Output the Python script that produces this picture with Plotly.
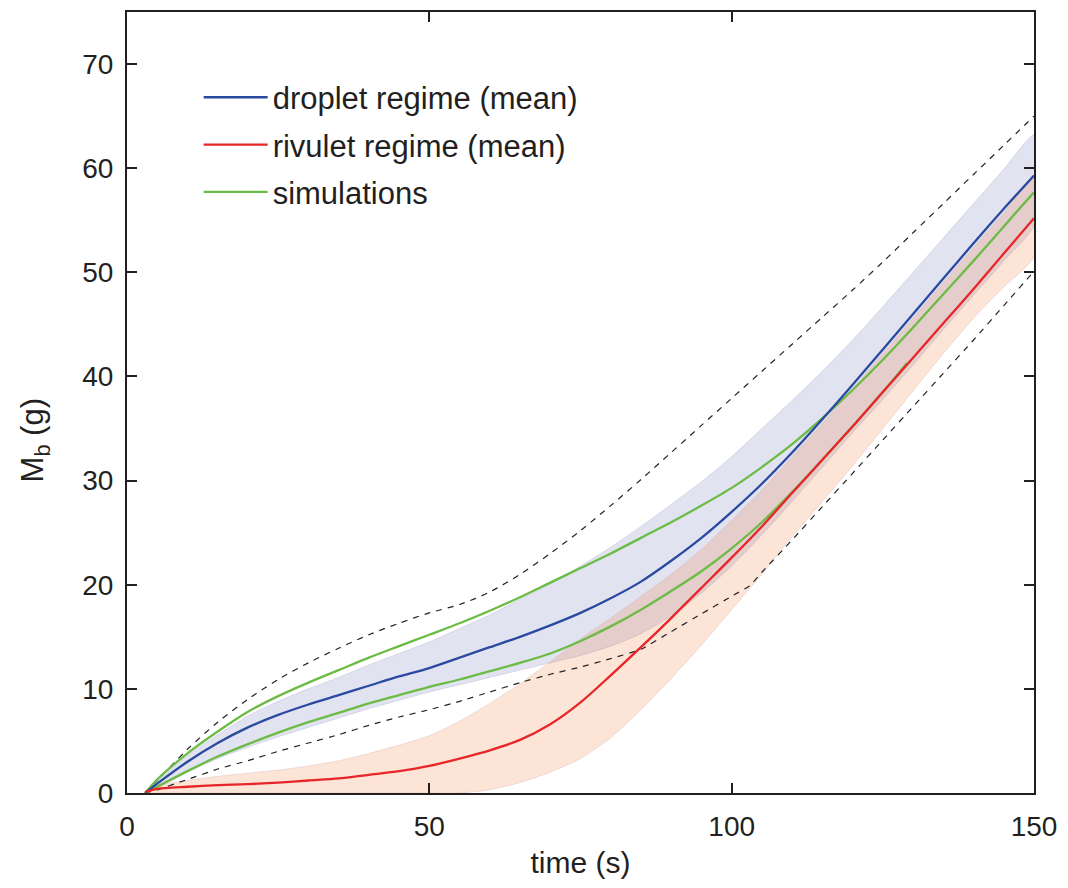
import plotly.graph_objects as go

# ---------------- data ----------------
t_std = [3, 5, 10, 15, 20, 25, 30, 35, 40, 45, 50, 55, 60, 65, 70, 75, 80, 85, 90,
         95, 100, 105, 110, 115, 120, 125, 130, 135, 140, 145, 150]

droplet_mean = [0, 0.9, 3.0, 4.8, 6.3, 7.5, 8.5, 9.4, 10.3, 11.2, 12.0, 13.0, 14.0, 15.0,
                16.1, 17.3, 18.7, 20.3, 22.3, 24.5, 27.0, 29.7, 32.7, 35.9, 39.2, 42.6,
                46.0, 49.4, 52.8, 56.1, 59.3]
droplet_upper = [0, 1.1, 3.6, 5.6, 7.4, 8.8, 10.0, 11.1, 12.3, 13.4, 14.5, 15.8, 17.1, 18.6,
                 20.1, 21.8, 23.6, 25.6, 27.7, 29.9, 32.3, 35.0, 37.7, 40.5, 43.5, 46.7,
                 50.0, 53.3, 56.6, 59.9, 63.2]
droplet_lower = [0, 0.5, 2.0, 3.3, 4.4, 5.4, 6.3, 7.2, 8.1, 8.9, 9.7, 10.4, 11.1, 11.8,
                 12.5, 13.2, 14.1, 15.3, 17.0, 19.2, 21.8, 24.8, 28.0, 31.3, 34.6, 37.8,
                 41.1, 44.5, 47.8, 51.1, 54.5]

rivulet_mean = [0.1, 0.4, 0.6, 0.75, 0.85, 1.0, 1.2, 1.4, 1.75, 2.1, 2.6, 3.3, 4.1, 5.1,
                6.6, 8.7, 11.3, 14.0, 16.8, 19.7, 22.6, 25.6, 28.8, 32.0, 35.2, 38.5,
                41.8, 45.1, 48.4, 51.8, 55.2]
rivulet_upper = [0, 0.7, 1.2, 1.6, 1.9, 2.2, 2.6, 3.1, 3.8, 4.6, 5.5, 6.9, 8.6, 10.5,
                 12.6, 14.8, 16.8, 18.9, 21.0, 23.4, 26.2, 29.1, 32.3, 35.5, 38.8, 42.2,
                 45.6, 49.0, 52.4, 55.7, 59.0]
rivulet_lower = [0, 0, 0, 0, 0, 0, 0, 0, 0, 0, 0, 0, 0.3, 1.0, 2.0, 3.3, 5.3, 8.0,
                 11.0, 14.2, 17.6, 21.0, 24.6, 28.0, 31.4, 35.0, 38.6, 42.2, 45.6,
                 48.6, 51.5]

dash_upper = [0, 1.2, 4.2, 6.8, 9.0, 10.9, 12.5, 13.9, 15.2, 16.3, 17.3, 18.1, 19.3, 21.0,
              23.0, 25.2, 27.6, 30.1, 32.7, 35.3, 37.9, 40.5, 43.1, 45.7, 48.3, 51.0,
              53.8, 56.6, 59.4, 62.2, 65.0]
t_dash_low = [3, 5, 10, 15, 20, 25, 30, 35, 40, 45, 50, 55, 60, 65, 70, 75, 80, 85, 90,
              95, 100, 103, 105, 110, 115, 120, 125, 130, 135, 140, 145, 150]
dash_lower = [0, 0.3, 1.3, 2.3, 3.1, 4.0, 4.8, 5.6, 6.5, 7.3, 8.0, 8.8, 9.7, 10.6, 11.4,
              12.1, 12.9, 13.8, 15.5, 17.2, 18.9, 19.9, 21.2, 24.3, 27.5, 30.7, 33.9,
              37.1, 40.3, 43.5, 46.8, 50.1]

sim_upper = [0, 1.3, 3.8, 5.9, 7.8, 9.3, 10.6, 11.8, 13.0, 14.1, 15.2, 16.3, 17.5, 18.8,
             20.2, 21.6, 23.0, 24.5, 26.0, 27.6, 29.3, 31.3, 33.5, 36.0, 38.7, 41.6,
             44.7, 47.9, 51.1, 54.4, 57.7]
t_sim_low = [3, 5, 10, 15, 20, 25, 30, 35, 40, 45, 50, 55, 60, 65, 70, 75, 80, 85, 90,
             95, 100, 105, 110, 115, 120, 125, 129]
sim_lower = [0, 0.6, 2.1, 3.5, 4.7, 5.8, 6.8, 7.7, 8.6, 9.4, 10.2, 10.9, 11.7, 12.5,
             13.4, 14.6, 16.0, 17.6, 19.4, 21.3, 23.5, 26.0, 28.9, 32.0, 35.2, 38.5, 41.3]

x_ticks = [0, 50, 100, 150]
y_ticks = [0, 10, 20, 30, 40, 50, 60, 70]

# ---------------- figure ----------------
BLUE = "#2a4aa0"
RED = "#e8262a"
GREEN = "#6cbb45"
INK = "#231f20"
FONT = "Liberation Sans, Arial, Helvetica, sans-serif"

fig = go.Figure()

# bands
fig.add_trace(go.Scatter(
    x=t_std + t_std[::-1], y=droplet_upper + droplet_lower[::-1],
    fill="toself", fillcolor="rgba(60,70,160,0.15)",
    line=dict(color="rgba(150,150,190,0.35)", width=0.8, shape="spline", smoothing=0.6),
    mode="lines", showlegend=False, hoverinfo="skip"))
fig.add_trace(go.Scatter(
    x=t_std + t_std[::-1], y=rivulet_upper + rivulet_lower[::-1],
    fill="toself", fillcolor="rgba(240,120,55,0.2)",
    line=dict(color="rgba(200,160,160,0.35)", width=0.8, shape="spline", smoothing=0.6),
    mode="lines", showlegend=False, hoverinfo="skip"))

# dashed envelopes
fig.add_trace(go.Scatter(x=t_std, y=dash_upper, mode="lines",
                         line=dict(color="#222222", width=1.2, dash="6px,6px",
                                   shape="spline", smoothing=0.8),
                         showlegend=False))
fig.add_trace(go.Scatter(x=t_dash_low, y=dash_lower, mode="lines",
                         line=dict(color="#222222", width=1.2, dash="6px,6px",
                                   shape="spline", smoothing=0.4),
                         showlegend=False))

# simulations
fig.add_trace(go.Scatter(x=t_std, y=sim_upper, mode="lines",
                         line=dict(color=GREEN, width=2.3, shape="spline", smoothing=0.8),
                         name="simulations", legendrank=3, legendgroup="c"))
fig.add_trace(go.Scatter(x=t_sim_low, y=sim_lower, mode="lines",
                         line=dict(color=GREEN, width=2.3, shape="spline", smoothing=0.8),
                         showlegend=False, legendgroup="c"))

# means
fig.add_trace(go.Scatter(x=t_std, y=droplet_mean, mode="lines",
                         line=dict(color=BLUE, width=2.3, shape="spline", smoothing=0.8),
                         name="droplet regime (mean)", legendrank=1, legendgroup="a"))
fig.add_trace(go.Scatter(x=t_std, y=rivulet_mean, mode="lines",
                         line=dict(color=RED, width=2.3, shape="spline", smoothing=0.8),
                         name="rivulet regime (mean)", legendrank=2, legendgroup="b"))

axis_common = dict(
    showline=True, linecolor=INK, linewidth=2, mirror="ticks",
    ticks="inside", ticklen=10, tickwidth=1.5, tickcolor=INK,
    showgrid=False, zeroline=False,
    tickfont=dict(family=FONT, size=28, color=INK),
)

fig.update_layout(
    width=1068, height=888,
    margin=dict(l=127, r=34, t=10, b=95),
    plot_bgcolor="white", paper_bgcolor="white",
    font=dict(family=FONT, color=INK),
    xaxis=dict(range=[0, 150], tickvals=x_ticks, ticktext=[str(v) for v in x_ticks],
               title=dict(text="time (s)", font=dict(family=FONT, size=30, color=INK),
                          standoff=11),
               ticklabelstandoff=7,
               **axis_common),
    yaxis=dict(range=[0, 75], tickvals=y_ticks, ticktext=[str(v) for v in y_ticks],
               ticklabelstandoff=6,
               **axis_common),
    legend=dict(x=0.079, y=0.925, xanchor="left", yanchor="top",
                bgcolor="rgba(0,0,0,0)", borderwidth=0,
                font=dict(family=FONT, size=31, color=INK),
                itemwidth=64, tracegroupgap=4),
    showlegend=True,
    annotations=[dict(text="M<sub>b</sub> (g)", textangle=-90,
                      xref="paper", yref="paper", x=-0.101, y=0.452,
                      xanchor="center", yanchor="middle", showarrow=False,
                      font=dict(family=FONT, size=31, color=INK))],
)

fig.write_html("out.html")
